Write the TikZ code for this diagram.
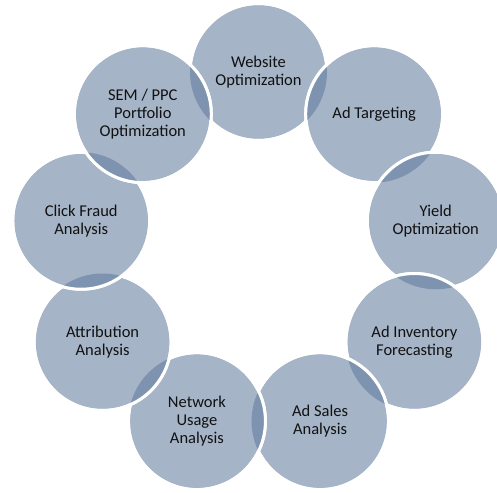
\documentclass[tikz,border=0pt]{standalone}
\usepackage{fontspec}
\setmainfont{Carlito}
\definecolor{ringfill}{HTML}{A5B4C7}
\definecolor{ringdark}{HTML}{7D93AF}
\definecolor{ringtext}{HTML}{111111}

\tikzset{
  ring/.style={circle,fill=ringfill,draw=white,line width=3pt,minimum size=137pt,
    inner sep=0pt,align=center,text=ringtext,font=\fontsize{16.5}{18}\selectfont},
}

\begin{document}
\begin{tikzpicture}[x=1pt,y=1pt]
\useasboundingbox (-258.5,252) rectangle (238.5,-240);
% circles clockwise from the top, each one over the one before
\foreach \i/\ang/\txt in {
  1/90/{Website\\Optimization},
  2/50/{Ad Targeting},
  3/10/{Yield\\Optimization},
  4/-30/{Ad Inventory\\Forecasting},
  5/-70/{Ad Sales\\Analysis},
  6/-110/{Network\\Usage\\Analysis},
  7/-150/{Attribution\\Analysis},
  8/170/{Click Fraud\\Analysis},
  9/130/{SEM / PPC\\Portfolio\\Optimization}}{
  \node[ring] (c\i) at (\ang:180) {};
  % darker lens where it overlaps the previous circle
  \ifnum\i>1
    \pgfmathtruncatemacro{\prev}{\i-1}
    \begin{scope}
      \clip (c\prev.center) circle (68.5);
      \fill[ringdark] (c\i.center) circle (68.5);
    \end{scope}
  \fi
  \ifnum\i=9
    \begin{scope}
      \clip (c1.center) circle (68.5);
      \fill[ringdark] (c9.center) circle (68.5);
    \end{scope}
  \fi
  \draw[white,line width=3pt] (c\i.center) circle (68.5);
  \node[ring,fill=none,draw=none] (t\i) at (c\i.center) {\txt};
}
\end{tikzpicture}
\end{document}
